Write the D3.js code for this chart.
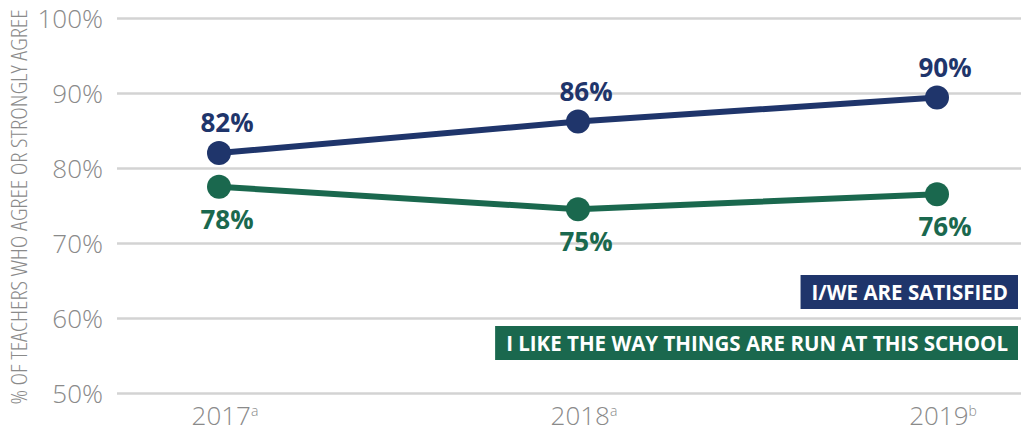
<!DOCTYPE html>
<html>
<head>
<meta charset="utf-8">
<script src="https://cdn.jsdelivr.net/npm/d3@7"></script>
<style>
  body { margin: 0; background: #fff; }
  svg { display: block; }
</style>
</head>
<body>
<div id="chart"></div>
<script>
// data
var years = ["2017", "2018", "2019"];
var yearNotes = ["a", "a", "b"];
var satisfied = [82.0, 86.2, 89.4];
var satisfiedLabels = ["82%", "86%", "90%"];
var likeWay = [77.5, 74.5, 76.5];
var likeWayLabels = ["78%", "75%", "76%"];
var yTicks = [50, 60, 70, 80, 90, 100];

var width = 1021,
    height = 433;

var navy = "#1f356b",
    green = "#1a684e",
    grey = "#8a8a8a";

var svg = d3.select("#chart")
  .append("svg")
    .attr("width", width)
    .attr("height", height);

var x = d3.scalePoint()
  .domain(years)
  .range([219, 937]);

var y = d3.scaleLinear()
  .domain([50, 100])
  .range([393, 18]);

// gridlines + y labels
var yAxis = d3.axisLeft(y)
  .tickValues(yTicks)
  .tickSize(-(width - 117))
  .tickPadding(14)
  .tickFormat(function(d) { return d + "%"; });

var gy = svg.append("g")
  .attr("transform", "translate(117,0)")
  .call(yAxis);
gy.select(".domain").remove();
gy.selectAll(".tick line")
  .attr("stroke", "#d3d3d3")
  .attr("stroke-width", 2.5);
gy.selectAll(".tick text")
  .attr("fill", grey)
  .attr("dy", "0.36em")
  .style("font-family", "'Open Sans', sans-serif")
  .style("font-weight", 300)
  .style("font-stretch", "90%")
  .style("font-size", "26px");

// x labels with superscripts
var xl = svg.append("g")
  .selectAll("text")
  .data(years)
  .enter()
  .append("text")
    .attr("x", function(d) { return x(d) + 6; })
    .attr("y", 425)
    .attr("text-anchor", "middle")
    .attr("fill", grey)
    .style("font-family", "'Open Sans', sans-serif")
    .style("font-weight", 300)
    .style("font-stretch", "90%")
    .style("font-size", "26px");
xl.append("tspan").text(function(d) { return d; });
xl.append("tspan")
  .attr("dy", -9)
  .style("font-size", "14px")
  .text(function(d, i) { return yearNotes[i]; });

// y axis title
svg.append("text")
  .attr("transform", "translate(27,207) rotate(-90)")
  .attr("text-anchor", "middle")
  .attr("textLength", 395)
  .attr("lengthAdjust", "spacingAndGlyphs")
  .attr("fill", grey)
  .style("font-family", "'Open Sans', sans-serif")
  .style("font-weight", 300)
  .style("font-stretch", "75%")
  .style("font-size", "22px")
  .text("% OF TEACHERS WHO AGREE OR STRONGLY AGREE");

var line = d3.line()
  .x(function(d, i) { return x(years[i]); })
  .y(function(d) { return y(d); });

function drawSeries(vals, labels, color, dy) {
  var g = svg.append("g");
  g.append("path")
    .datum(vals)
    .attr("d", line)
    .attr("fill", "none")
    .attr("stroke", color)
    .attr("stroke-width", 6);
  g.selectAll("circle")
    .data(vals)
    .enter()
    .append("circle")
      .attr("cx", function(d, i) { return x(years[i]); })
      .attr("cy", function(d) { return y(d); })
      .attr("r", 12)
      .attr("fill", color);
  g.selectAll("text")
    .data(vals)
    .enter()
    .append("text")
      .attr("x", function(d, i) { return x(years[i]) + 8; })
      .attr("y", function(d) { return y(d) + dy; })
      .attr("text-anchor", "middle")
      .attr("fill", color)
      .style("font-family", "'Open Sans', sans-serif")
      .style("font-weight", 700)
      .style("font-size", "26px")
      .text(function(d, i) { return labels[i]; });
}

drawSeries(satisfied, satisfiedLabels, navy, -21);
drawSeries(likeWay, likeWayLabels, green, 42);

// legend boxes
var legendNames = ["I/WE ARE SATISFIED", "I LIKE THE WAY THINGS ARE RUN AT THIS SCHOOL"];
var legendColors = [navy, green];
var legendTop = [275, 326];

legendNames.forEach(function(name, i) {
  var g = svg.append("g");
  var r = g.append("rect").attr("fill", legendColors[i]);
  var t = g.append("text")
    .attr("x", 1008)
    .attr("y", legendTop[i] + 25)
    .attr("text-anchor", "end")
    .attr("fill", "#fff")
    .style("font-family", "'Open Sans', sans-serif")
    .style("font-weight", 700)
    .style("font-size", "20.5px")
    .text(name);
  var bb = t.node().getBBox();
  r.attr("x", bb.x - 11)
    .attr("y", legendTop[i])
    .attr("width", 1018 - (bb.x - 11))
    .attr("height", 34);
});
</script>
</body>
</html>
